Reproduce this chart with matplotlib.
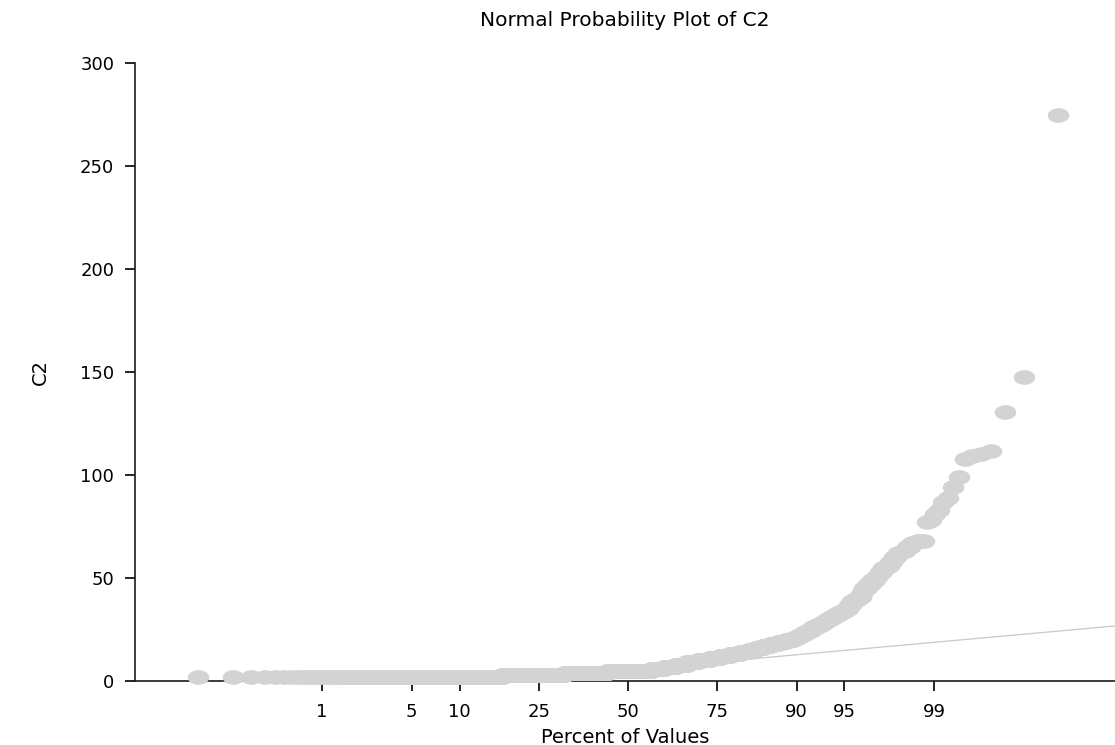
import matplotlib
matplotlib.use("Agg")
import matplotlib.pyplot as plt
import numpy as np
from matplotlib.path import Path
from matplotlib.transforms import Affine2D
from statistics import NormalDist

# largest observations, read one by one off the upper tail
tail_values = [274.8, 147.6, 130.6, 111.6, 110, 109, 108, 99, 94, 89, 87, 83, 81, 78, 77]

# dense part of the sample as a frequency table (value, how many times)
band_values = [68, 67, 65, 63, 62, 60, 58, 56, 55, 53, 51, 49, 47, 45, 43, 41, 40, 39, 37, 35,
               34, 33, 32, 31, 30, 29, 28, 27, 26, 25, 24, 23, 22, 21,
               20, 19, 18, 17, 16, 15, 14, 13, 12, 11, 10, 9, 8, 7, 6, 5, 4, 3, 2]
band_counts = [3, 2, 2, 2, 2, 2, 2, 2, 2, 2, 2, 3, 3, 3, 2, 2, 3, 3, 3, 3,
               4, 4, 4, 4, 4, 4, 4, 6, 6, 6, 6, 6, 6, 7,
               14, 16, 16, 16, 17, 17, 24, 28, 30, 32, 38, 40, 40, 42, 50, 170, 160, 187, 219]

pct_ticks = [1, 5, 10, 25, 50, 75, 90, 95, 99]
line_intercept = 5.35   # reference line, value at 50 %
line_slope = 5.77       # per standard normal unit

nd = NormalDist()
c2 = np.sort(np.concatenate([np.repeat(band_values, band_counts), tail_values]))
n = len(c2)
ranks = np.arange(1, n + 1)
plot_pos = (ranks - 0.3) / (n + 0.4)          # median ranks
zq = np.array([nd.inv_cdf(p) for p in plot_pos])

# flattened dot, as in the original
dot = Affine2D().scale(1.0, 0.68).transform_path(Path.unit_circle())

fig = plt.figure(figsize=(11.15, 7.45), dpi=100)
ax = fig.add_axes([0.1211, 0.0859, 0.8789, 0.8295])

ax.set_xlim(-3.749, 3.703)
ax.set_ylim(0, 300)

xl = np.array(ax.get_xlim())
ax.plot(xl, line_intercept + line_slope * xl, color='#c8c8c8', lw=0.9, zorder=2)
ax.plot(zq, c2, ls='none', marker=dot, ms=15.5, mfc='#d3d3d3', mec='none',
        zorder=3, clip_on=False)

ax.set_xticks([nd.inv_cdf(p / 100) for p in pct_ticks])
ax.set_xticklabels([str(p) for p in pct_ticks])
ax.set_yticks(np.arange(0, 301, 50))

for s in ['top', 'right']:
    ax.spines[s].set_visible(False)
for s in ['left', 'bottom']:
    ax.spines[s].set_linewidth(1.2)
    ax.spines[s].set_color('#1a1a1a')

ax.tick_params(axis='both', direction='out', length=7, width=1.2, labelsize=13)
ax.tick_params(axis='x', pad=9)
ax.tick_params(axis='y', pad=8)

ax.set_xlabel('Percent of Values', fontsize=14, labelpad=5)
ax.set_ylabel('C2', fontsize=14, labelpad=22)
ax.set_title('Normal Probability Plot of C2', fontsize=14.5, pad=27)

fig.savefig('out.png', dpi=100)
